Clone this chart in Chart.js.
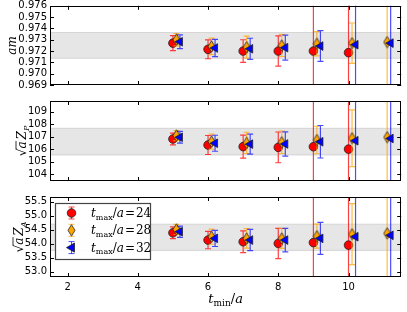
<!DOCTYPE html>
<html><head><meta charset="utf-8">
<script src="https://cdn.jsdelivr.net/npm/chart.js@4/dist/chart.umd.min.js"></script>
<style>
html,body{margin:0;padding:0;background:#fff;width:407px;height:312px;overflow:hidden}
canvas{position:absolute;left:0}
</style></head><body>
<canvas id="c1" width="407" height="95" style="top:0px"></canvas>
<canvas id="c2" width="407" height="95" style="top:95px"></canvas>
<canvas id="c3" width="407" height="122" style="top:190px"></canvas>
<script>
// ---------- data ----------
const X_MIN = 1.5, X_MAX = 11.5;
const xTicks = [2, 4, 6, 8, 10];
const xRed    = [5, 6, 7, 8, 9, 10];
const xOrange = [5.1, 6.1, 7.1, 8.1, 9.1, 10.1, 11.1];
const xBlue   = [5.2, 6.2, 7.2, 8.2, 9.2, 10.2, 11.2];
const legendLabels = ['24', '28', '32'];

// am
const amTicks = [0.969, 0.970, 0.971, 0.972, 0.973, 0.974, 0.975, 0.976];
const amBand = [0.97136, 0.97364];
const amRed = [0.97270, 0.97215, 0.97200, 0.97200, 0.97200, 0.97186];
const amRedErr = [0.00066, 0.00083, 0.00100, 0.00134, 0.05, 0.05];
const amOrange = [0.97300, 0.97241, 0.97235, 0.97250, 0.97265, 0.97270, 0.97279];
const amOrangeErr = [0.00055, 0.00073, 0.00097, 0.00098, 0.00107, 0.00178, 0.05];
const amBlue = [0.97282, 0.97227, 0.97220, 0.97230, 0.97244, 0.97256, 0.97270];
const amBlueErr = [0.00061, 0.00077, 0.00093, 0.00110, 0.00136, 0.05, 0.05];

// sqrt(a) Z_P
const zpTicks = [104, 105, 106, 107, 108, 109];
const zpBand = [105.53, 107.67];
const zpRed = [106.81, 106.33, 106.20, 106.14, 106.19, 106.00];
const zpRedErr = [0.47, 0.76, 0.92, 1.23, 20, 20];
const zpOrange = [107.08, 106.60, 106.50, 106.55, 106.73, 106.87, 106.95];
const zpOrangeErr = [0.40, 0.60, 0.85, 0.90, 1.10, 2.27, 20];
const zpBlue = [106.95, 106.47, 106.40, 106.41, 106.59, 106.67, 106.85];
const zpBlueErr = [0.47, 0.64, 0.80, 0.97, 1.30, 20, 20];

// sqrt(a) Z_A
const zaTicks = [53.0, 53.5, 54.0, 54.5, 55.0, 55.5];
const zaBand = [53.76, 54.70];
const zaRed = [54.39, 54.13, 54.07, 54.01, 54.04, 53.95];
const zaRedErr = [0.21, 0.31, 0.39, 0.54, 10, 10];
const zaOrange = [54.51, 54.25, 54.19, 54.19, 54.27, 54.34, 54.37];
const zaOrangeErr = [0.18, 0.27, 0.35, 0.36, 0.43, 1.09, 10];
const zaBlue = [54.43, 54.19, 54.13, 54.13, 54.19, 54.25, 54.30];
const zaBlueErr = [0.20, 0.29, 0.38, 0.42, 0.57, 10, 10];

// ---------- styling ----------
const RED = '#ff0000', ORANGE = '#ffa500', BLUE = '#0000ff';
const RED_BAR = 'rgba(255,0,0,0.75)', ORANGE_BAR = 'rgba(255,165,0,0.75)', BLUE_BAR = 'rgba(0,0,255,0.7)';
const SERIF = '"DejaVu Serif", "Liberation Serif", serif';
const SANS = '"DejaVu Sans", sans-serif';

function thinDiamond() {
  const c = document.createElement('canvas');
  c.width = 9; c.height = 13;
  const g = c.getContext('2d');
  g.beginPath();
  g.moveTo(4.5, 0.8); g.lineTo(8.0, 6.5); g.lineTo(4.5, 12.2); g.lineTo(1.0, 6.5); g.closePath();
  g.fillStyle = ORANGE; g.fill();
  g.lineWidth = 0.8; g.strokeStyle = '#222'; g.stroke();
  return c;
}
const diamondImg = thinDiamond();

function drawMarker(ctx, kind, x, y) {
  ctx.save();
  ctx.lineWidth = 0.8; ctx.strokeStyle = '#222';
  if (kind === 'red') {
    ctx.beginPath(); ctx.arc(x, y, 4.3, 0, Math.PI * 2);
    ctx.fillStyle = RED; ctx.fill(); ctx.stroke();
  } else if (kind === 'orange') {
    ctx.drawImage(diamondImg, x - 4.5, y - 6.5);
  } else {
    ctx.beginPath(); ctx.moveTo(x - 5, y); ctx.lineTo(x + 3, y - 4.6); ctx.lineTo(x + 3, y + 4.6); ctx.closePath();
    ctx.fillStyle = BLUE; ctx.fill(); ctx.stroke();
  }
  ctx.restore();
}

function drawRuns(ctx, runs, x, y, align) {
  let w = 0;
  runs.forEach(r => { ctx.font = r.font; r.w = ctx.measureText(r.t).width; w += r.w + (r.sp || 0); });
  let cx = align === 'center' ? x - w / 2 : x;
  runs.forEach(r => {
    ctx.font = r.font;
    ctx.fillText(r.t, cx, y + (r.dy || 0));
    if (r.over) {
      ctx.beginPath(); ctx.lineWidth = 0.8;
      ctx.moveTo(cx - 1, y - r.over); ctx.lineTo(cx + r.w + 0.5, y - r.over); ctx.stroke();
    }
    cx += r.w + (r.sp || 0);
  });
}

const errorBarPlugin = {
  id: 'errbars',
  beforeDatasetDraw(chart, args) {
    const ds = chart.data.datasets[args.index];
    if (!ds.err) return;
    const ctx = chart.ctx, xs = chart.scales.x, ys = chart.scales.y, a = chart.chartArea;
    ctx.save();
    ctx.beginPath(); ctx.rect(a.left, a.top, a.right - a.left, a.bottom - a.top); ctx.clip();
    ctx.strokeStyle = ds.barColor; ctx.lineWidth = 1.2;
    ds.data.forEach((p, i) => {
      const px = xs.getPixelForValue(p.x);
      const y1 = ys.getPixelForValue(p.y + ds.err[i]);
      const y2 = ys.getPixelForValue(p.y - ds.err[i]);
      ctx.beginPath();
      ctx.moveTo(px, y1); ctx.lineTo(px, y2);
      ctx.moveTo(px - 3, y1); ctx.lineTo(px + 3, y1);
      ctx.moveTo(px - 3, y2); ctx.lineTo(px + 3, y2);
      ctx.stroke();
    });
    ctx.restore();
  }
};

const framePlugin = {
  id: 'frame',
  afterDraw(chart) {
    const o = chart.options.plugins.frame;
    const ctx = chart.ctx, a = chart.chartArea, xs = chart.scales.x, ys = chart.scales.y;
    ctx.save();
    ctx.strokeStyle = '#000'; ctx.lineWidth = 1;
    ctx.strokeRect(Math.round(a.left) + 0.5, Math.round(a.top) + 0.5, Math.round(a.right - a.left) - 1, Math.round(a.bottom - a.top) - 1);
    ctx.beginPath();
    xTicks.forEach(v => {
      const px = Math.round(xs.getPixelForValue(v)) + 0.5;
      ctx.moveTo(px, a.bottom); ctx.lineTo(px, a.bottom - 4);
      ctx.moveTo(px, a.top); ctx.lineTo(px, a.top + 4);
    });
    o.yTicks.forEach(v => {
      const py = Math.round(ys.getPixelForValue(v)) + 0.5;
      ctx.moveTo(a.left, py); ctx.lineTo(a.left + 4, py);
      ctx.moveTo(a.right, py); ctx.lineTo(a.right - 4, py);
    });
    ctx.stroke();

    // y axis title
    ctx.fillStyle = '#000'; ctx.strokeStyle = '#000';
    ctx.translate(o.titleX, (a.top + a.bottom) / 2);
    ctx.rotate(-Math.PI / 2);
    ctx.textBaseline = 'alphabetic';
    drawRuns(ctx, o.title, 0, 4, 'center');
    ctx.restore();

    if (o.legend) {
      ctx.save();
      const L = { x: 55, y: 13, w: 95, h: 56 };
      ctx.fillStyle = 'rgba(255,255,255,0.95)';
      ctx.fillRect(L.x, L.y, L.w, L.h);
      ctx.strokeStyle = '#444'; ctx.lineWidth = 1.2;
      ctx.strokeRect(L.x + 0.5, L.y + 0.5, L.w, L.h);
      const kinds = ['red', 'orange', 'blue'];
      const bars = [RED_BAR, ORANGE_BAR, BLUE_BAR];
      kinds.forEach((k, i) => {
        const yy = L.y + 10 + i * 17.3;
        const mx = 71.5;
        ctx.strokeStyle = bars[i]; ctx.lineWidth = 1;
        ctx.beginPath();
        ctx.moveTo(mx, yy - 6); ctx.lineTo(mx, yy + 6);
        ctx.moveTo(mx - 3, yy - 6); ctx.lineTo(mx + 3, yy - 6);
        ctx.moveTo(mx - 3, yy + 6); ctx.lineTo(mx + 3, yy + 6);
        ctx.stroke();
        drawMarker(ctx, k, mx, yy);
        ctx.fillStyle = '#000';
        drawRuns(ctx, [
          { t: 't', font: 'italic 12px ' + SERIF },
          { t: 'max', font: '8px ' + SERIF, dy: 2.5 },
          { t: '/', font: '12px ' + SERIF },
          { t: 'a', font: 'italic 12px ' + SERIF, sp: 1 },
          { t: '=', font: '12px ' + SERIF, sp: 1 },
          { t: legendLabels[i], font: '12px ' + SERIF }
        ], 91, yy + 4, 'left');
      });
      ctx.restore();
    }
    if (o.xTitle) {
      ctx.save();
      ctx.fillStyle = '#000';
      drawRuns(ctx, [
        { t: 't', font: 'italic 13px ' + SERIF },
        { t: 'min', font: '9px ' + SERIF, dy: 3 },
        { t: '/', font: '13px ' + SERIF },
        { t: 'a', font: 'italic 13px ' + SERIF }
      ], (a.left + a.right) / 2, 113, 'center');
      ctx.restore();
    }
  }
};

function makePanel(id, o) {
  const pts = (xs, ys) => xs.map((x, i) => ({ x: x, y: ys[i] }));
  return new Chart(document.getElementById(id), {
    type: 'scatter',
    data: {
      datasets: [
        { type: 'line', data: [{ x: X_MIN, y: o.band[0] }, { x: X_MAX, y: o.band[0] }], pointRadius: 0,
          borderColor: 'rgba(128,128,128,0.25)', borderWidth: 1, fill: false, order: 11 },
        { type: 'line', data: [{ x: X_MIN, y: o.band[1] }, { x: X_MAX, y: o.band[1] }], pointRadius: 0,
          borderColor: 'rgba(128,128,128,0.25)', borderWidth: 1, fill: '-1', backgroundColor: 'rgba(128,128,128,0.2)', order: 10 },
        { data: pts(xRed, o.red), err: o.redErr, barColor: RED_BAR, pointStyle: 'circle', pointRadius: 4.3,
          backgroundColor: RED, borderColor: '#222', pointBorderWidth: 0.8, order: 3 },
        { data: pts(xOrange, o.orange), err: o.orangeErr, barColor: ORANGE_BAR, pointStyle: diamondImg,
          backgroundColor: ORANGE, borderColor: '#222', order: 2 },
        { data: pts(xBlue, o.blue), err: o.blueErr, barColor: BLUE_BAR, pointStyle: 'triangle', rotation: -90, pointRadius: 5,
          backgroundColor: BLUE, borderColor: '#222', pointBorderWidth: 0.8, order: 1 }
      ]
    },
    options: {
      responsive: false, animation: false, events: [],
      layout: { padding: { top: o.padTop, bottom: o.padBottom, left: 0, right: 5 } },
      plugins: {
        legend: { display: false }, tooltip: { enabled: false },
        frame: { yTicks: o.yTicks, title: o.title, titleX: o.titleX, legend: o.legend, xTitle: o.xTitle }
      },
      scales: {
        x: {
          type: 'linear', min: X_MIN, max: X_MAX, display: o.showX,
          afterBuildTicks: s => { s.ticks = xTicks.map(v => ({ value: v })); },
          afterFit: s => { if (o.showX) { s.height = 35; s.paddingLeft = 0; s.paddingRight = 0; } },
          grid: { display: false, drawTicks: false }, border: { display: false },
          ticks: { color: '#000', font: { family: SANS, size: 10 }, padding: 4, maxRotation: 0, autoSkip: false }
        },
        y: {
          type: 'linear', min: o.min, max: o.max,
          afterBuildTicks: s => { s.ticks = o.yTicks.map(v => ({ value: v })); },
          afterFit: s => { s.width = 50; s.paddingTop = 0; s.paddingBottom = 0; },
          grid: { display: false, drawTicks: false }, border: { display: false },
          ticks: { color: '#000', font: { family: SANS, size: 10 }, padding: 3, autoSkip: false, callback: v => o.fmt(v) }
        }
      }
    },
    plugins: [errorBarPlugin, framePlugin]
  });
}

makePanel('c1', {
  min: 0.969, max: 0.976, yTicks: amTicks, band: amBand, fmt: v => v.toFixed(3),
  red: amRed, redErr: amRedErr, orange: amOrange, orangeErr: amOrangeErr, blue: amBlue, blueErr: amBlueErr,
  padTop: 5, padBottom: 10, showX: false, titleX: 12,
  title: [{ t: 'am', font: 'italic 12px ' + SERIF }]
});
makePanel('c2', {
  min: 103.45, max: 109.85, yTicks: zpTicks, band: zpBand, fmt: v => v.toFixed(0),
  red: zpRed, redErr: zpRedErr, orange: zpOrange, orangeErr: zpOrangeErr, blue: zpBlue, blueErr: zpBlueErr,
  padTop: 6, padBottom: 9, showX: false, titleX: 22,
  title: [{ t: '\u221A', font: '12px ' + SERIF }, { t: 'a', font: 'italic 12px ' + SERIF, over: 10, sp: 2 },
          { t: 'Z', font: 'italic 12px ' + SERIF }, { t: 'P', font: 'italic 8px ' + SERIF, dy: 3 }]
});
makePanel('c3', {
  min: 52.81, max: 55.67, yTicks: zaTicks, band: zaBand, fmt: v => v.toFixed(1),
  red: zaRed, redErr: zaRedErr, orange: zaOrange, orangeErr: zaOrangeErr, blue: zaBlue, blueErr: zaBlueErr,
  padTop: 7, padBottom: 0, showX: true, titleX: 19, legend: true, xTitle: true,
  title: [{ t: '\u221A', font: '12px ' + SERIF }, { t: 'a', font: 'italic 12px ' + SERIF, over: 10, sp: 2 },
          { t: 'Z', font: 'italic 12px ' + SERIF }, { t: 'A', font: 'italic 8px ' + SERIF, dy: 3 }]
});
</script>
</body></html>
